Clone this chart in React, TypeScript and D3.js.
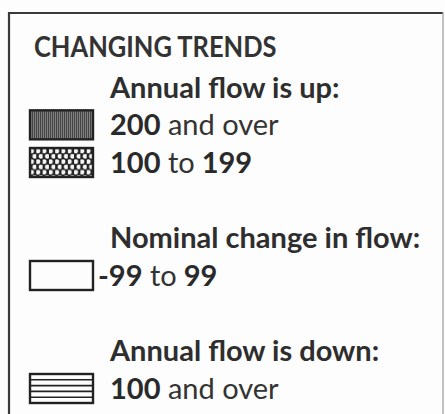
import React from "react";
import * as d3 from "d3";

const title = "CHANGING TRENDS";
const groupHeadings = ["Annual flow is up:", "Nominal change in flow:", "Annual flow is down:"];
const headingRows = [1, 5, 8];
const itemLead = ["200", "100", "-99", "100"];
const itemMid = ["and over", "to", "to", "and over"];
const itemTail = ["", "199", "99", ""];
const itemRows = [2, 3, 6, 9];
const itemPatterns = ["vlines", "dots", "none", "hlines"];

const W = 445;
const H = 414;
const FONT = "Lato, 'Open Sans', sans-serif";

export default function App() {
  const y = d3.scaleLinear().domain([0, 9]).range([60, 399]);
  const swX = 30;
  const swW = 63;
  const swH = 29;
  const textX = 110;

  return (
    <svg
      width={W}
      height={H}
      style={{ position: "absolute", left: 0, top: 0, background: "#fdfdfd" }}
      fontFamily={FONT}
    >
      <defs>
        <pattern id="vlines" width="2" height="4" patternUnits="userSpaceOnUse">
          <rect width="2" height="4" fill="#808080" />
          <rect width="1" height="4" fill="#454545" />
        </pattern>
        <pattern id="dots" width="6.3" height="10.6" patternUnits="userSpaceOnUse" x={swX} y={0}>
          <rect width="6.3" height="10.6" fill="#1e1e1e" />
          <circle cx="1.6" cy="2.65" r="2.35" fill="#f4f4f4" />
          <circle cx="4.75" cy="7.95" r="2.35" fill="#f4f4f4" />
        </pattern>
      </defs>
      <rect x={0} y={0} width={W} height={H} fill="#fdfdfd" />
      {/* frame */}
      <line x1={9} y1={13} x2={443} y2={13} stroke="#3a3a3a" strokeWidth={2.2} />
      <line x1={9} y1={12} x2={9} y2={H} stroke="#3a3a3a" strokeWidth={2.2} />
      <line x1={443} y1={12} x2={443} y2={H} stroke="#9a9a9a" strokeWidth={1.2} />

      <text
        transform={`translate(34,${y(0) - 3}) scale(0.91,1)`}
        fontSize={28}
        fontWeight={700}
        fill="#333"
      >
        {title}
      </text>

      {groupHeadings.map((h, i) => (
        <text key={h} x={textX} y={y(headingRows[i])} fontSize={29} fontWeight={700} fill="#2e2e2e">
          {h}
        </text>
      ))}

      {itemLead.map((lead, i) => {
        const base = y(itemRows[i]);
        const top = base + 4 - swH;
        const pat = itemPatterns[i];
        const hang = lead.startsWith("-") ? 12 : 0;
        return (
          <g key={i}>
            {pat === "hlines" &&
              d3.range(1, 5).map((k) => (
                <line
                  key={k}
                  x1={swX}
                  x2={swX + swW}
                  y1={top + (k * swH) / 5}
                  y2={top + (k * swH) / 5}
                  stroke="#222"
                  strokeWidth={1.6}
                />
              ))}
            <rect
              x={swX}
              y={top}
              width={swW}
              height={swH}
              fill={pat === "none" || pat === "hlines" ? "none" : `url(#${pat})`}
              stroke="#222"
              strokeWidth={2.4}
            />
            <text x={textX - hang} y={base} fontSize={29} fill="#333">
              <tspan fontWeight={700} fill="#2a2a2a">{lead}</tspan>
              <tspan fontWeight={400}>{" " + itemMid[i]}</tspan>
              {itemTail[i] && <tspan fontWeight={700} fill="#2a2a2a">{" " + itemTail[i]}</tspan>}
            </text>
          </g>
        );
      })}
    </svg>
  );
}
